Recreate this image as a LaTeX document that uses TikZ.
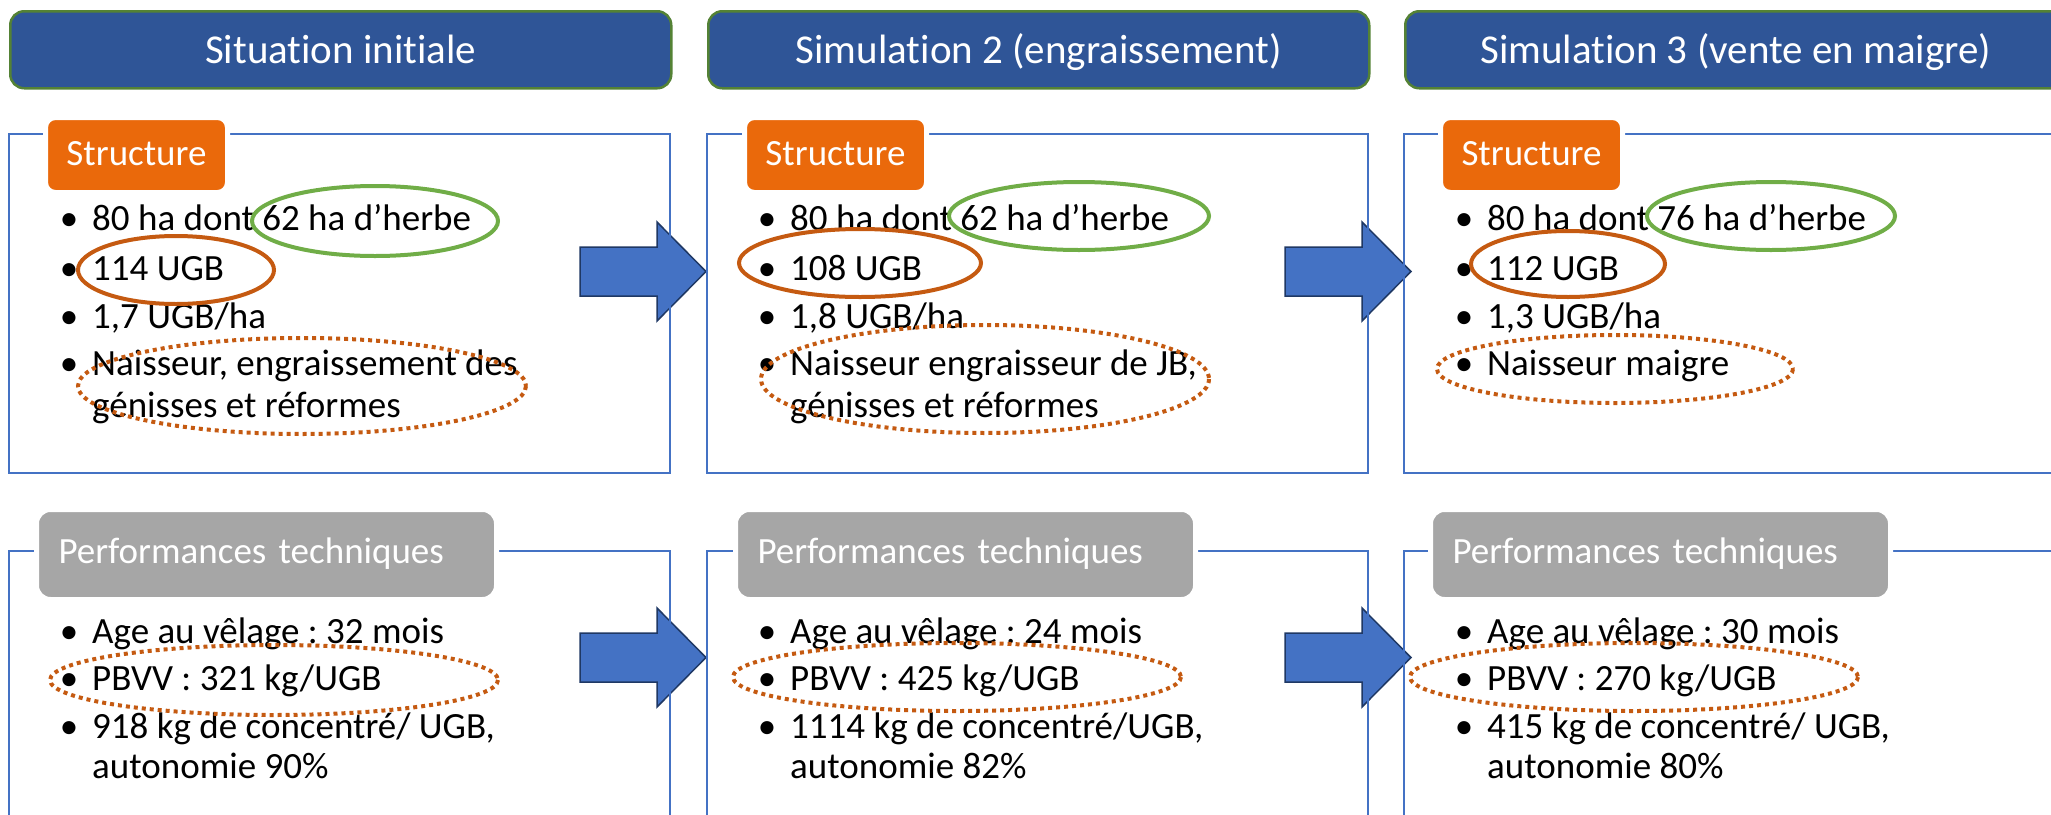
\documentclass[tikz,border=0pt]{standalone}
\usepackage{fontspec}
\setmainfont{Carlito}[Ligatures=NoCommon]
\frenchspacing
\definecolor{titlefill}{HTML}{2F5597}
\definecolor{titleedge}{HTML}{548235}
\definecolor{frameblue}{HTML}{4472C4}
\definecolor{tagorange}{HTML}{EA690B}
\definecolor{taggray}{HTML}{A6A6A6}
\definecolor{ringgreen}{HTML}{70AD47}
\definecolor{ringrust}{HTML}{C55A11}
\definecolor{arrowedge}{HTML}{1F3864}
\tikzset{
  titlebox/.style={fill=titlefill, draw=titleedge, line width=2.5pt, rounded corners=14pt,
    minimum width=661pt, minimum height=77pt, anchor=north west, text=white,
    font=\fontsize{41}{48}\selectfont, text height=27pt, text depth=0pt, inner sep=0pt},
  frame/.style={draw=frameblue, line width=2.5pt},
  structtag/.style={fill=tagorange, draw=white, line width=5pt, rounded corners=10pt,
    minimum width=182pt, minimum height=75pt, anchor=north west, text=white,
    font=\fontsize{37}{44}\selectfont, text height=21pt, text depth=0pt, inner sep=0pt},
  perftag/.style={fill=taggray, draw=white, line width=5pt, rounded corners=14pt,
    text width=416pt, align=left, inner xsep=22pt, inner ysep=0pt,
    minimum height=90pt, anchor=north west, text=white,
    font=\fontsize{37}{44}\selectfont, text height=18pt, text depth=0pt},
  itemtext/.style={anchor=base west, inner sep=0pt, font=\fontsize{37}{44}\selectfont},
  bulletmark/.style={anchor=base, inner sep=0pt, font=\fontsize{37}{44}\selectfont},
  greenring/.style={draw=ringgreen, line width=4pt},
  rustring/.style={draw=ringrust, line width=4pt},
  dotring/.style={draw=ringrust, line width=4pt, dash pattern=on 4pt off 4pt},
  arrowbody/.style={fill=frameblue, draw=arrowedge, line width=1.5pt, line join=miter},
  blockarrow/.pic={
    \path[arrowbody] (0,-24.5) -- (77,-24.5) -- (77,-49.5) -- (126,0)
      -- (77,49.5) -- (77,24.5) -- (0,24.5) -- cycle;
  }
}
% bullet item: name, column left edge, baseline, text
\newcommand{\itemline}[4]{%
  \node[bulletmark] (#1dot) at (#2+60,#3) {•};
  \node[itemtext] (#1) at (#2+83,#3) {#4};}
% continuation line of a bullet item
\newcommand{\contline}[4]{%
  \node[itemtext] (#1) at (#2+83,#3) {#4};}
\begin{document}
\begin{tikzpicture}[x=1pt,y=-1pt]
\path[use as bounding box] (0,0) rectangle (2051,814);
\clip (0,0) rectangle (2051,814);

% transition arrows between the columns
\pic (arrTopA) at (580,271.5) {blockarrow};
\pic (arrTopB) at (1285,271.5) {blockarrow};
\pic (arrBotA) at (580,657.5) {blockarrow};
\pic (arrBotB) at (1285,657.5) {blockarrow};

% frames of the two panels in each column
\draw[frame] (9,134) rectangle (670,473);
\draw[frame] (707,134) rectangle (1368,473);
\draw[frame] (1404,134) rectangle (2065,473);
\draw[frame] (9,551) rectangle (670,840);
\draw[frame] (707,551) rectangle (1368,840);
\draw[frame] (1404,551) rectangle (2065,840);

% column headings
\node[titlebox] (t1) at (9,10) {Situation initiale};
\node[titlebox] (t2) at (707,10) {Simulation 2 (engraissement)};
\node[titlebox] (t3) at (1404,10) {Simulation 3 (vente en maigre)};

% panel tags
\node[structtag] (st1) at (43,115) {Structure};
\node[structtag] (st2) at (742,115) {Structure};
\node[structtag] (st3) at (1438,115) {Structure};
\node[perftag] (pt1) at (34,507) {Performances techniques};
\node[perftag] (pt2) at (733,507) {Performances techniques};
\node[perftag] (pt3) at (1428,507) {Performances techniques};

% structure lists
\itemline{aA}{9}{230}{80 ha dont 62 ha d’herbe}
\itemline{aB}{9}{280}{114 UGB}
\itemline{aC}{9}{328}{1,7 UGB/ha}
\itemline{aD}{9}{375}{Naisseur, engraissement des}
\contline{aE}{9}{417}{génisses et réformes}

\itemline{bA}{707}{230}{80 ha dont 62 ha d’herbe}
\itemline{bB}{707}{280}{108 UGB}
\itemline{bC}{707}{328}{1,8 UGB/ha}
\itemline{bD}{707}{375}{Naisseur engraisseur de JB,}
\contline{bE}{707}{417}{génisses et réformes}

\itemline{cA}{1404}{230}{80 ha dont 76 ha d’herbe}
\itemline{cB}{1404}{280}{112 UGB}
\itemline{cC}{1404}{328}{1,3 UGB/ha}
\itemline{cD}{1404}{375}{Naisseur maigre}

% technical performance lists
\itemline{pA}{9}{643}{Age au vêlage : 32 mois}
\itemline{pB}{9}{690}{PBVV : 321 kg/UGB}
\itemline{pC}{9}{738}{918 kg de concentré/ UGB,}
\contline{pD}{9}{778}{autonomie 90\%}

\itemline{qA}{707}{643}{Age au vêlage : 24 mois}
\itemline{qB}{707}{690}{PBVV : 425 kg/UGB}
\itemline{qC}{707}{738}{1114 kg de concentré/UGB,}
\contline{qD}{707}{778}{autonomie 82\%}

\itemline{rA}{1404}{643}{Age au vêlage : 30 mois}
\itemline{rB}{1404}{690}{PBVV : 270 kg/UGB}
\itemline{rC}{1404}{738}{415 kg de concentré/ UGB,}
\contline{rD}{1404}{778}{autonomie 80\%}

% highlight rings
\draw[greenring] (375,221) ellipse [x radius=123, y radius=35];
\draw[greenring] (1079,216) ellipse [x radius=130, y radius=34];
\draw[greenring] (1771,216) ellipse [x radius=124, y radius=34];

\draw[rustring] (176,270) ellipse [x radius=98, y radius=34];
\draw[rustring] (860,263) ellipse [x radius=121, y radius=34];
\draw[rustring] (1568,264) ellipse [x radius=97, y radius=33];

\draw[dotring] (302,386) ellipse [x radius=224, y radius=48];
\draw[dotring] (985,379) ellipse [x radius=224, y radius=54];
\draw[dotring] (1615,369) ellipse [x radius=178, y radius=34];

\draw[dotring] (274,680) ellipse [x radius=224, y radius=35];
\draw[dotring] (957,677) ellipse [x radius=224, y radius=34];
\draw[dotring] (1634,677) ellipse [x radius=224, y radius=34];
\end{tikzpicture}
\end{document}
